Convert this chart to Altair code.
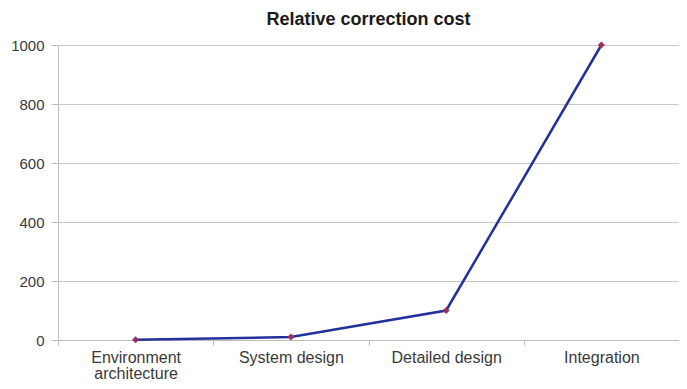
import altair as alt
import pandas as pd

categories = ["Environment|architecture", "System design", "Detailed design", "Integration"]
costs = [1, 10, 100, 1000]
y_ticks = [0, 200, 400, 600, 800, 1000]

df = pd.DataFrame({"stage": categories, "cost": costs})

x = alt.X("stage:N", sort=categories, title=None,
          scale=alt.Scale(paddingInner=0, paddingOuter=0),
          axis=alt.Axis(labelAngle=0, labelExpr="split(datum.label, '|')",
                        tickBand="extent", domainColor="#bdbdbd", tickColor="#bdbdbd",
                        tickSize=5, labelPadding=4, labelFont="Liberation Sans",
                        labelFontSize=16, labelColor="#3a3a3a", labelLineHeight=16))
y = alt.Y("cost:Q", title=None,
          scale=alt.Scale(domain=[0, 1000], nice=False),
          axis=alt.Axis(values=y_ticks, format="d", gridColor="#c8c8c8", domainColor="#bdbdbd",
                        tickColor="#bdbdbd", tickSize=7, labelPadding=7,
                        labelFont="Liberation Sans", labelFontSize=15, labelColor="#3a3a3a"))

line = alt.Chart(df).mark_line(color="#23319a", strokeWidth=2.5).encode(x=x, y=y)
pts = alt.Chart(df).mark_point(shape="diamond", filled=True, size=50, color="#9b2f63", opacity=1).encode(x=x, y=y)

chart = (line + pts).properties(
    width=621, height=295,
    title=alt.Title("Relative correction cost", font="Liberation Sans", fontSize=18,
                    fontWeight="bold", color="#1a1a1a", anchor="middle", offset=9),
    autosize=alt.AutoSizeParams(type="none"),
    padding={"left": 50, "top": 37, "right": 0, "bottom": 40},
).configure_view(stroke=None)

chart.save("out.html", embed_options={"renderer": "svg", "actions": False})
